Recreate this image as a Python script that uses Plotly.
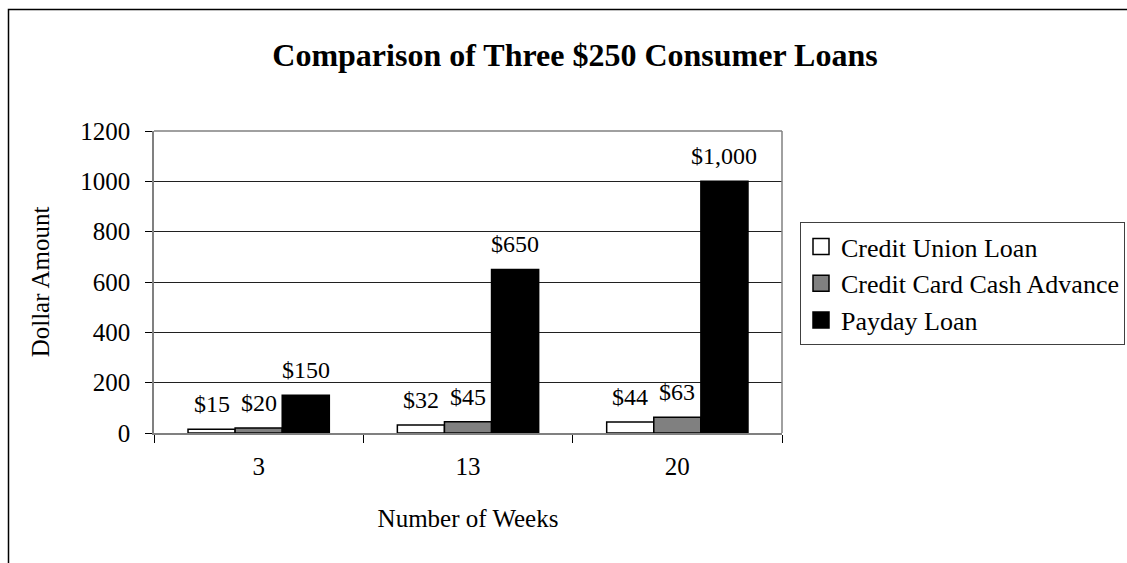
import plotly.graph_objects as go

weeks = ["3", "13", "20"]
series_names = ["Credit Union Loan", "Credit Card Cash Advance", "Payday Loan"]
credit_union = [15, 32, 44]
credit_card = [20, 45, 63]
payday = [150, 650, 1000]
labels_cu = ["$15", "$32", "$44"]
labels_cc = ["$20", "$45", "$63"]
labels_pd = ["$150", "$650", "$1,000"]
y_ticks = [0, 200, 400, 600, 800, 1000, 1200]

colors = ["#FFFFFF", "#808080", "#000000"]
FONT = "Liberation Serif"

fig = go.Figure()
all_vals = [credit_union, credit_card, payday]
all_labels = [labels_cu, labels_cc, labels_pd]
for name, vals, col in zip(series_names, all_vals, colors):
    fig.add_trace(go.Bar(
        x=weeks, y=vals, name=name, showlegend=False,
        marker=dict(color=col, line=dict(color="#000000", width=1.5)),
    ))
# legend entries with larger square swatches
for name, col in zip(series_names, colors):
    fig.add_trace(go.Scatter(
        x=[None], y=[None], mode="markers", name=name,
        marker=dict(symbol="square", size=17, color=col,
                    line=dict(color="#000000", width=1.5)),
    ))

bargap = 0.325
bw = (1 - bargap) / 3
annotations = []
for s, (vals, labs) in enumerate(zip(all_vals, all_labels)):
    for i, (v, lab) in enumerate(zip(vals, labs)):
        annotations.append(dict(
            x=i + (s - 1) * bw, y=v, xref="x", yref="y", text=lab,
            showarrow=False, yanchor="middle", yshift=25,
            font=dict(family=FONT, size=24, color="#000"),
        ))

fig.update_layout(
    width=1127, height=563,
    margin=dict(l=154, r=345, t=131, b=130, autoexpand=False),
    paper_bgcolor="white", plot_bgcolor="white",
    barmode="group", bargap=bargap, bargroupgap=0,
    font=dict(family=FONT, size=25, color="#000"),
    title=dict(text="<b>Comparison of Three $250 Consumer Loans</b>",
               x=575 / 1127, xanchor="center", y=1 - 55 / 563, yanchor="middle",
               font=dict(family=FONT, size=32, color="#000")),
    legend=dict(x=(800 - 154) / 628, xanchor="left", y=(433 - 222) / 302, yanchor="top",
                bordercolor="#404040", borderwidth=1, bgcolor="white",
                font=dict(family=FONT, size=26, color="#000"),
                itemclick=False, itemwidth=30),
    annotations=annotations,
    showlegend=True,
)

fig.update_xaxes(
    type="category", tickson="boundaries", ticks="outside", ticklen=8,
    tickcolor="#000", showline=True, linecolor="#808080", linewidth=1.5,
    mirror=False, showgrid=False, ticklabelstandoff=10,
    title=dict(text="Number of Weeks", font=dict(family=FONT, size=25), standoff=31),
    tickfont=dict(family=FONT, size=25),
)
fig.update_yaxes(
    range=[0, 1200], tickvals=y_ticks, ticks="outside", ticklen=7,
    tickcolor="#000", showline=True, linecolor="#808080", linewidth=1.5,
    showgrid=True, gridcolor="#202020", gridwidth=1, zeroline=False,
    ticklabelstandoff=10,
    title=dict(text="Dollar Amount", font=dict(family=FONT, size=25), standoff=24),
    tickfont=dict(family=FONT, size=25),
)

# plot-area right and top edges (grey) and outer chart border
fig.add_shape(type="line", xref="paper", yref="paper", x0=1, x1=1, y0=0, y1=1,
              line=dict(color="#808080", width=1.5))
fig.add_shape(type="line", xref="paper", yref="paper", x0=0, x1=1, y0=1, y1=1,
              line=dict(color="#808080", width=1.5))
fig.add_shape(type="rect", xref="paper", yref="paper",
              x0=(8.5 - 154) / 628, x1=(1140 - 154) / 628,
              y0=(433 - 580) / 302, y1=(433 - 9.5) / 302,
              line=dict(color="#000", width=1.5), layer="below")

fig.write_html("out.html")
